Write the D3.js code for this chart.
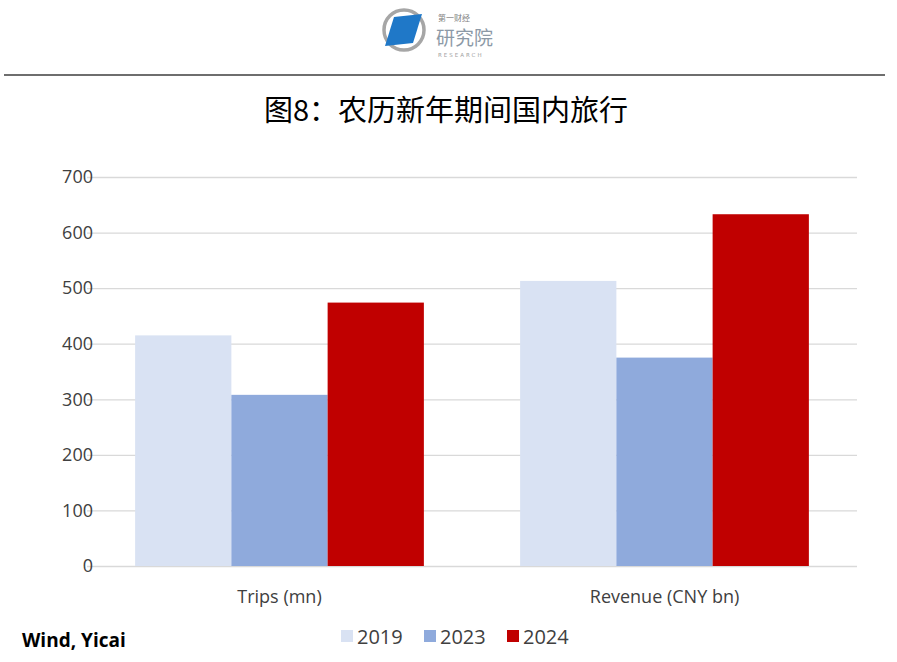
<!DOCTYPE html>
<html>
<head>
<meta charset="utf-8">
<script src="https://cdn.jsdelivr.net/npm/d3@7"></script>
<style>
  html, body { margin: 0; padding: 0; background: #ffffff; }
  svg { display: block; }
</style>
</head>
<body>
<svg id="chart" width="897" height="662"></svg>
<script>
// ---- data ----
const categories = ["Trips (mn)", "Revenue (CNY bn)"];
const seriesNames = ["2019", "2023", "2024"];
const values2019 = [415, 513];
const values2023 = [308, 375];
const values2024 = [474, 633];
const yTicks = [0, 100, 200, 300, 400, 500, 600, 700];
const seriesColors = ["#d9e2f3", "#8faadc", "#c00000"];
const titleText = "图8：农历新年期间国内旅行";
const sourceText = "Wind, Yicai";

const seriesValues = [values2019, values2023, values2024];
const rows = categories.map((c, i) => ({
  category: c,
  vals: seriesNames.map((s, j) => ({ series: s, value: seriesValues[j][i], color: seriesColors[j] }))
}));

const svg = d3.select("#chart");

// ---- header: logo ----
const logo = svg.append("g");
logo.append("circle").attr("cx", 404).attr("cy", 30).attr("r", 20)
  .attr("fill", "none").attr("stroke", "#a6a6a6").attr("stroke-width", 3.5);
logo.append("path")
  .attr("d", "M394,17 L422,14 L413,43 L385,46 Z")
  .attr("fill", "#1f78c8");
logo.append("text").attr("x", 438).attr("y", 20.5)
  .attr("font-family", "Noto Sans CJK SC").attr("font-size", 8).attr("fill", "#7f7f7f")
  .text("第一财经");
logo.append("text").attr("x", 436).attr("y", 45)
  .attr("font-family", "Noto Sans CJK SC").attr("font-size", 19).attr("fill", "#8c99a6")
  .text("研究院");
logo.append("text").attr("x", 438).attr("y", 57)
  .attr("font-family", "DejaVu Sans").attr("font-size", 5.5).attr("fill", "#a0a0a0")
  .attr("letter-spacing", 2)
  .text("RESEARCH");

svg.append("line").attr("x1", 4).attr("x2", 885).attr("y1", 75).attr("y2", 75)
  .attr("stroke", "#6e6e6e").attr("stroke-width", 2);

// ---- title ----
svg.append("text").attr("x", 446).attr("y", 121)
  .attr("text-anchor", "middle")
  .attr("font-family", "Noto Sans CJK SC").attr("font-size", 29).attr("font-weight", 400)
  .attr("fill", "#000")
  .text(titleText);

// ---- plot ----
const margin = { left: 87, right: 857, top: 177, bottom: 566 };
const y = d3.scaleLinear().domain([0, 700]).range([margin.bottom, margin.top]);
const x0 = d3.scaleBand().domain(categories).range([margin.left, margin.right])
  .paddingInner(0.25).paddingOuter(0.125);
const x1 = d3.scaleBand().domain(seriesNames).range([0, x0.bandwidth()]).padding(0);

// gridlines + y tick labels
const yAxis = d3.axisLeft(y).tickValues(yTicks)
  .tickSize(-(margin.right - margin.left)).tickPadding(0);
const gy = svg.append("g").attr("transform", `translate(${margin.left},0)`).call(yAxis);
gy.select(".domain").remove();
gy.selectAll(".tick line").attr("stroke", "#d9d9d9").attr("stroke-width", 1.3);
gy.selectAll(".tick text")
  .attr("font-family", "Open Sans").attr("font-size", 18).attr("fill", "#404040")
  .attr("x", 93 - margin.left).attr("text-anchor", "end");

// bars
const groups = svg.append("g").selectAll("g").data(rows).join("g")
  .attr("transform", d => `translate(${x0(d.category)},0)`);
groups.selectAll("rect").data(d => d.vals).join("rect")
  .attr("x", d => x1(d.series))
  .attr("width", x1.bandwidth())
  .attr("y", d => y(d.value))
  .attr("height", d => y(0) - y(d.value))
  .attr("fill", d => d.color);

// category axis labels
const xAxis = d3.axisBottom(x0).tickSize(0).tickPadding(24);
const gx = svg.append("g").attr("transform", `translate(0,${margin.bottom})`).call(xAxis);
gx.select(".domain").remove();
gx.selectAll(".tick text")
  .attr("font-family", "Open Sans").attr("font-size", 18).attr("fill", "#404040");

// legend
const legendX = [341, 424, 507];
const legend = svg.append("g").selectAll("g").data(seriesNames).join("g")
  .attr("transform", (d, i) => `translate(${legendX[i]},630)`);
legend.append("rect").attr("width", 12).attr("height", 12)
  .attr("fill", (d, i) => seriesColors[i]);
legend.append("text").attr("x", 16).attr("y", 14)
  .attr("font-family", "Open Sans").attr("font-size", 20).attr("fill", "#404040")
  .text(d => d);

// source
svg.append("text").attr("x", 22).attr("y", 647)
  .attr("font-family", "Open Sans").attr("font-weight", "bold")
  .attr("font-size", 19).attr("fill", "#000")
  .text(sourceText);
</script>
</body>
</html>
